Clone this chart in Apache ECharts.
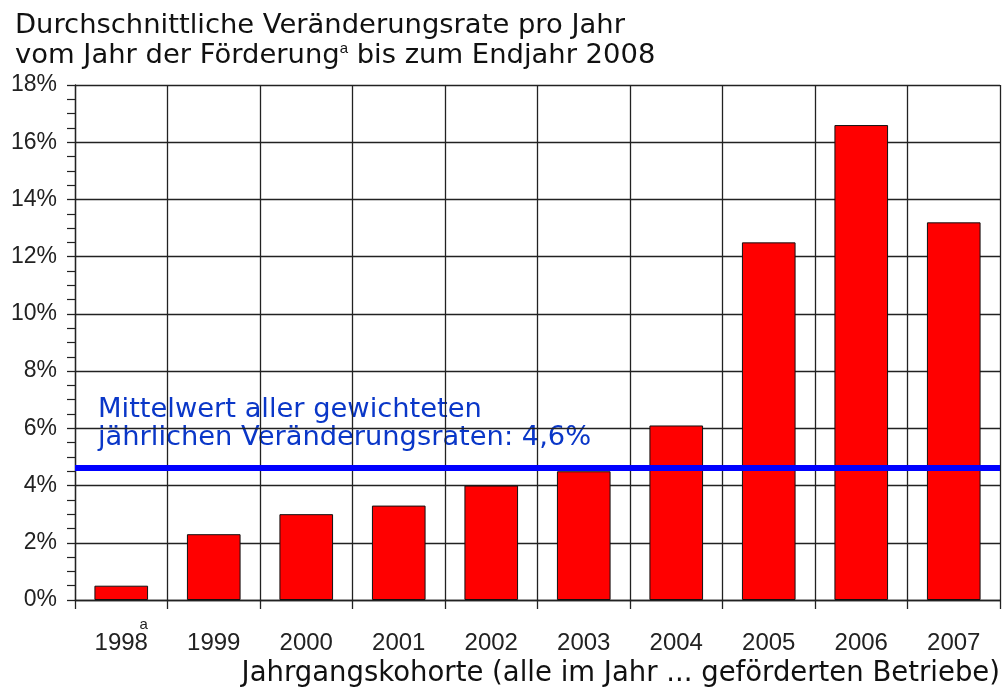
<!DOCTYPE html>
<html>
<head>
<meta charset="utf-8">
<script src="https://cdn.jsdelivr.net/npm/echarts@6/dist/echarts.min.js"></script>
<style>
  html, body { margin: 0; padding: 0; background: #fff; }
  #main { width: 1006px; height: 691px; }
</style>
</head>
<body>
<div id="main"></div>
<script>
// Jahrgangskohorten und durchschnittliche Veränderungsrate (%)
const years = ['1998', '1999', '2000', '2001', '2002', '2003', '2004', '2005', '2006', '2007']
const rates = [0.5, 2.3, 3.0, 3.3, 4.0, 4.5, 6.1, 12.5, 16.6, 13.2]
const meanRate = 4.63
const yTicks = [0, 2, 4, 6, 8, 10, 12, 14, 16, 18]

const numFont = '"Liberation Sans", Arial, sans-serif'
const textFont = '"DejaVu Sans", Verdana, sans-serif'
const ink = '#222'

const chart = echarts.init(document.getElementById('main'))

chart.setOption({
  animation: false,
  backgroundColor: '#fff',
  title: {
    left: 10,
    top: 6,
    text: 'Durchschnittliche Veränderungsrate pro Jahr\nvom Jahr der Förderung{sup|a} bis zum Endjahr 2008',
    textStyle: {
      fontFamily: textFont,
      fontSize: 27.4,
      fontWeight: 'normal',
      color: '#111',
      lineHeight: 30,
      rich: {
        sup: { fontFamily: numFont, fontSize: 15, color: '#111', verticalAlign: 'top', lineHeight: 30 }
      }
    }
  },
  grid: { left: 75, right: 6, top: 85, bottom: 91 },
  xAxis: {
    type: 'category',
    data: years,
    boundaryGap: true,
    axisLine: { lineStyle: { color: ink, width: 1.3 } },
    axisTick: { show: true, interval: 0, length: 9, lineStyle: { color: ink, width: 1.3 } },
    splitLine: { show: true, interval: 0, lineStyle: { color: ink, width: 1.3 } },
    axisLabel: {
      interval: 0,
      margin: 20,
      color: ink,
      // Fußnote "a" sitzt rechts über der ersten Kohorte
      formatter: v => '{sup|' + (v === years[0] ? 'a' : ' ') + '}\n{n|' + v + '}',
      rich: {
        sup: { fontFamily: numFont, fontSize: 15, color: ink, lineHeight: 9, align: 'right' },
        n: { fontFamily: numFont, fontSize: 24, color: ink, lineHeight: 28 }
      }
    }
  },
  yAxis: {
    type: 'value',
    min: yTicks[0],
    max: yTicks[yTicks.length - 1],
    interval: 2,
    axisLine: { show: true, lineStyle: { color: ink, width: 1.3 } },
    axisTick: { show: true, length: 8, lineStyle: { color: ink, width: 1.3 } },
    minorTick: { show: true, splitNumber: 4, length: 8, lineStyle: { color: ink, width: 1.2 } },
    splitLine: { show: true, lineStyle: { color: ink, width: 1.3 } },
    axisLabel: {
      margin: 18,
      fontFamily: numFont,
      fontSize: 23,
      color: ink,
      formatter: v => v + '%'
    }
  },
  series: [{
    type: 'bar',
    data: rates,
    barWidth: '58%',
    itemStyle: { color: '#ff0000', borderColor: '#111', borderWidth: 1 },
    markLine: {
      silent: true,
      symbol: 'none',
      label: { show: false },
      lineStyle: { color: '#0000ff', width: 6, type: 'solid' },
      data: [{ yAxis: meanRate }]
    }
  }],
  graphic: [
    {
      type: 'text',
      left: 98,
      top: 396,
      style: {
        text: 'Mittelwert aller gewichteten\njährlichen Veränderungsraten: 4,6%',
        font: '27.3px ' + textFont,
        lineHeight: 28,
        fill: '#0a37c8'
      }
    },
    {
      type: 'text',
      right: 6,
      top: 660,
      style: {
        text: 'Jahrgangskohorte (alle im Jahr ... geförderten Betriebe)',
        font: '27.5px ' + textFont,
        fill: '#111'
      }
    }
  ]
})
</script>
</body>
</html>
